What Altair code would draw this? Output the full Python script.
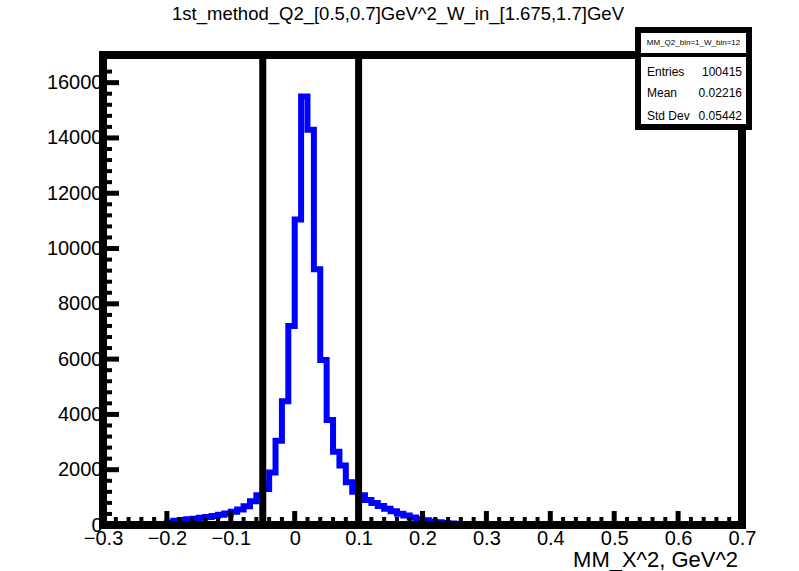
import altair as alt
import pandas as pd

# ---------------- data ----------------
title_text = "1st_method_Q2_[0.5,0.7]GeV^2_W_in_[1.675,1.7]GeV"
x_title = "MM_X^2, GeV^2"

bin_start = -0.25
bin_width = 0.01
counts = [10, 15, 20, 30, 40, 90, 150, 180, 205, 230,
          260, 290, 330, 370, 420, 480, 560, 680, 860, 1080,
          1300, 1900, 3050, 4480, 7200, 11050, 15500, 14300, 9250, 5970,
          3800, 2650, 2150, 1550, 1200, 1080, 900, 800, 690, 590,
          500, 410, 340, 270, 210, 170, 130, 100, 75, 55,
          40, 30, 20, 15, 10]

cut_lines = [-0.05, 0.1]
x_major = [-0.3, -0.2, -0.1, 0.0, 0.1, 0.2, 0.3, 0.4, 0.5, 0.6, 0.7]
y_major = [0, 2000, 4000, 6000, 8000, 10000, 12000, 14000, 16000]

stats_name = "MM_Q2_bin=1_W_bin=12"
stats_labels = ["Entries", "Mean", "Std Dev"]
stats_values = ["100415", "0.02216", "0.05442"]

# ---------------- layout ----------------
W, H = 639, 470
FONT = "Liberation Sans"

edges = [round(bin_start + i * bin_width, 4) for i in range(len(counts) + 1)]
hist_df = pd.DataFrame({"x": edges, "y": counts + [counts[-1]]})

x_minor = [round(-0.3 + 0.02 * i, 3) for i in range(51)]
x_minor = [v for v in x_minor if all(abs(v - m) > 1e-6 for m in x_major)]
y_minor = [400 * i for i in range(1, 42) if (400 * i) % 2000 != 0]

xs = alt.Scale(domain=[-0.3, 0.7], nice=False, zero=False)
ys = alt.Scale(domain=[0, 17000], nice=False, zero=True)

xax = alt.Axis(values=x_major,
               labelExpr="datum.value == 0 ? '0' : format(datum.value, '.1f')",
               ticks=False, domain=False, grid=False, labelFont=FONT,
               labelFontSize=20, labelColor="black", labelPadding=3,
               labelFlush=False, title=None)
yax = alt.Axis(values=y_major, format="d", ticks=False, domain=False, grid=False,
               labelFont=FONT, labelFontSize=20, labelColor="black",
               labelPadding=1, labelFlush=False, title=None)

one = pd.DataFrame({"a": [0]})

hist = alt.Chart(hist_df).mark_line(
    interpolate="step-after", color="#0000ff", strokeWidth=6,
    strokeJoin="miter", strokeCap="butt"
).encode(
    x=alt.X("x:Q", scale=xs, axis=xax, title=None),
    y=alt.Y("y:Q", scale=ys, axis=yax, title=None),
)

frame = alt.Chart(one).mark_rect(filled=False, stroke="black", strokeWidth=8).encode(
    x=alt.value(0), x2=alt.value(W), y=alt.value(0), y2=alt.value(H)
)

cuts = alt.Chart(pd.DataFrame({"x": cut_lines})).mark_rule(color="black", strokeWidth=7).encode(
    x=alt.X("x:Q", scale=xs, axis=xax, title=None), y=alt.value(0), y2=alt.value(H)
)

xmaj = alt.Chart(pd.DataFrame({"x": x_major[1:-1]})).mark_rule(color="black", strokeWidth=5).encode(
    x=alt.X("x:Q", scale=xs, axis=xax, title=None), y=alt.value(H), y2=alt.value(H - 14)
)
xmin = alt.Chart(pd.DataFrame({"x": x_minor})).mark_rule(color="black", strokeWidth=4).encode(
    x=alt.X("x:Q", scale=xs, axis=xax, title=None), y=alt.value(H), y2=alt.value(H - 8)
)
ymaj = alt.Chart(pd.DataFrame({"y": y_major[1:]})).mark_rule(color="black", strokeWidth=5).encode(
    y=alt.Y("y:Q", scale=ys, axis=yax, title=None), x=alt.value(0), x2=alt.value(16)
)
ymin = alt.Chart(pd.DataFrame({"y": y_minor})).mark_rule(color="black", strokeWidth=4).encode(
    y=alt.Y("y:Q", scale=ys, axis=yax, title=None), x=alt.value(0), x2=alt.value(9)
)

# stats box (pixel positions relative to plot origin at (103, 55))
BX0, BX1, BY0, BY1 = 535, 646, -25, 72
box = alt.Chart(one).mark_rect(fill="white", stroke="black", strokeWidth=6).encode(
    x=alt.value(BX0), x2=alt.value(BX1), y=alt.value(BY0), y2=alt.value(BY1)
)
box_sep = alt.Chart(one).mark_rule(color="black", strokeWidth=4).encode(
    x=alt.value(BX0), x2=alt.value(BX1), y=alt.value(0)
)
box_head = alt.Chart(pd.DataFrame({"s": [stats_name]})).mark_text(
    font=FONT, fontSize=8, align="center", baseline="middle", color="black"
).encode(text="s:N", x=alt.value((BX0 + BX1) / 2), y=alt.value(-12))

row_y = [17, 38, 61]
stat_layers = []
for lab, val, ry in zip(stats_labels, stats_values, row_y):
    d = pd.DataFrame({"lab": [lab], "val": [val]})
    stat_layers.append(alt.Chart(d).mark_text(
        font=FONT, fontSize=12, align="left", baseline="middle", color="black"
    ).encode(text="lab:N", x=alt.value(BX0 + 9), y=alt.value(ry)))
    stat_layers.append(alt.Chart(d).mark_text(
        font=FONT, fontSize=12, align="right", baseline="middle", color="black"
    ).encode(text="val:N", x=alt.value(BX1 - 7), y=alt.value(ry)))

title = alt.Chart(pd.DataFrame({"s": [title_text]})).mark_text(
    font=FONT, fontSize=18.5, align="center", baseline="middle", color="black"
).encode(text="s:N", x=alt.value(398 - 103), y=alt.value(-41))

xlab = alt.Chart(pd.DataFrame({"s": [x_title]})).mark_text(
    font=FONT, fontSize=22, align="right", baseline="middle", color="black"
).encode(text="s:N", x=alt.value(W - 4), y=alt.value(H + 35))

chart = alt.layer(
    hist, frame, cuts, xmaj, xmin, ymaj, ymin, box, box_sep, box_head,
    *stat_layers, title, xlab
).properties(
    width=W, height=H,
    autosize=alt.AutoSizeParams(type="none"),
    padding={"left": 103, "top": 55, "right": 57, "bottom": 46},
).configure_view(stroke=None).configure(background="white")

chart.save("out.html", embed_options={"renderer": "svg", "actions": False})
